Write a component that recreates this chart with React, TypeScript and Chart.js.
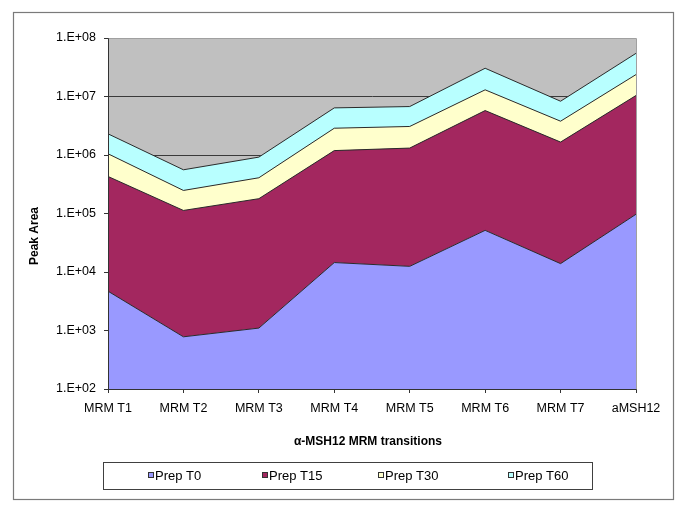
import React, { useEffect, useRef } from "react";
import { Chart, registerables } from "chart.js";

Chart.register(...registerables);

const categories = ["MRM T1", "MRM T2", "MRM T3", "MRM T4", "MRM T5", "MRM T6", "MRM T7", "aMSH12"];
const seriesLabels = ["Prep T0", "Prep T15", "Prep T30", "Prep T60"];
const prepT0 = [4700, 780, 1100, 14500, 12500, 51500, 13900, 97000];
const prepT15 = [425000, 112000, 178000, 1175000, 1300000, 5700000, 1650000, 10300000];
const prepT30 = [620000, 135000, 229000, 1680000, 1760000, 7250000, 2120000, 13300000];
const prepT60 = [1250000, 311000, 512000, 3520000, 3660000, 17400000, 4520000, 31000000];
const yTickValues = [1e2, 1e3, 1e4, 1e5, 1e6, 1e7, 1e8];
const yTickLabels = ["1.E+02", "1.E+03", "1.E+04", "1.E+05", "1.E+06", "1.E+07", "1.E+08"];
const seriesColors = ["#9999FF", "#A3275F", "#FFFFCC", "#B8FFFF"];

const FONT = "'Liberation Sans', Arial, sans-serif";

const decorPlugin = {
  id: "decor",
  beforeDraw(chart: any) {
    const { ctx, chartArea } = chart;
    ctx.save();
    ctx.fillStyle = "#C0C0C0";
    ctx.fillRect(chartArea.left, chartArea.top, chartArea.right - chartArea.left, chartArea.bottom - chartArea.top);
    ctx.restore();
  },
  afterDatasetsDraw(chart: any) {
    const { ctx, chartArea } = chart;
    const l = Math.round(chartArea.left) + 0.5;
    const r = Math.round(chartArea.right) + 0.5;
    const t = Math.round(chartArea.top) + 0.5;
    const b = Math.round(chartArea.bottom) + 0.5;
    ctx.save();
    ctx.lineWidth = 1;
    ctx.strokeStyle = "#A0A0A0";
    ctx.beginPath();
    ctx.moveTo(l, t);
    ctx.lineTo(r, t);
    ctx.lineTo(r, b);
    ctx.stroke();
    ctx.strokeStyle = "#333333";
    ctx.beginPath();
    ctx.moveTo(l, t);
    ctx.lineTo(l, b);
    ctx.lineTo(r, b);
    ctx.stroke();
    ctx.restore();
  },
  afterDraw(chart: any) {
    const { ctx, chartArea } = chart;
    ctx.save();
    // outer frame
    ctx.strokeStyle = "#7A7A7A";
    ctx.lineWidth = 1.2;
    ctx.strokeRect(13.5, 12.5, 660, 487);
    // axis titles
    ctx.fillStyle = "#000";
    ctx.font = `bold 12px ${FONT}`;
    ctx.textAlign = "center";
    ctx.textBaseline = "middle";
    ctx.fillText("\u03b1-MSH12 MRM transitions", (chartArea.left + chartArea.right) / 2 - 4, 442);
    ctx.save();
    ctx.translate(35, 236);
    ctx.rotate(-Math.PI / 2);
    ctx.fillText("Peak Area", 0, 0);
    ctx.restore();
    // legend
    ctx.strokeStyle = "#404040";
    ctx.lineWidth = 1;
    ctx.strokeRect(103.5, 462.5, 489, 27);
    const xs = [148, 262, 378, 508];
    ctx.font = `13px ${FONT}`;
    ctx.textAlign = "left";
    chart.data.datasets.forEach((ds: any, i: number) => {
      const x = xs[i];
      ctx.fillStyle = ds.backgroundColor;
      ctx.fillRect(x, 472, 6, 6);
      ctx.strokeStyle = "#333";
      ctx.strokeRect(x + 0.5, 472.5, 5, 5);
      ctx.fillStyle = "#000";
      ctx.fillText(ds.label, x + 7, 476.5);
    });
    ctx.restore();
  },
};

export default function App() {
  const ref = useRef<HTMLCanvasElement>(null);
  useEffect(() => {
    if (!ref.current) return;
    const seriesData = [prepT0, prepT15, prepT30, prepT60];
    const chart = new Chart(ref.current, {
      type: "line",
      data: {
        labels: categories,
        datasets: seriesData.map((d, i) => ({
          label: seriesLabels[i],
          data: d,
          backgroundColor: seriesColors[i],
          borderColor: "#2A2A2A",
          borderWidth: 1,
          pointRadius: 0,
          tension: 0,
          fill: i === 0 ? "start" : "-1",
        })),
      },
      options: {
        responsive: false,
        animation: false,
        events: [],
        layout: { padding: { left: 0, top: 38, right: 49, bottom: 93 } },
        plugins: {
          legend: { display: false },
          tooltip: { enabled: false },
          title: { display: false },
        },
        scales: {
          x: {
            type: "category",
            offset: false,
            afterFit: (s: any) => {
              s.height = 30;
            },
            grid: {
              drawOnChartArea: false,
              drawTicks: true,
              tickLength: 4,
              color: "#333",
              tickColor: "#333",
            },
            border: { display: true, color: "#333" },
            ticks: {
              color: "#000",
              font: { family: FONT, size: 12.5 },
              padding: 8,
              maxRotation: 0,
              autoSkip: false,
            },
          },
          y: {
            type: "logarithmic",
            stacked: true,
            min: 100,
            max: 1e8,
            afterFit: (s: any) => {
              s.width = 108;
            },
            afterBuildTicks: (s: any) => {
              s.ticks = yTickValues.map((v) => ({ value: v, major: true }));
            },
            grid: {
              drawTicks: true,
              tickLength: 4,
              color: (c: any) => (c.tick && c.tick.value === 1e8 ? "#A0A0A0" : "#3A3A3A"),
              tickColor: "#333",
              lineWidth: 1,
            },
            border: { display: true, color: "#333" },
            ticks: {
              color: "#000",
              font: { family: FONT, size: 12.5 },
              padding: 8,
              autoSkip: false,
              callback: (v: any) => {
                const idx = yTickValues.indexOf(Number(v));
                return idx >= 0 ? yTickLabels[idx] : "";
              },
            },
          },
        },
      },
      plugins: [decorPlugin],
    } as any);
    return () => chart.destroy();
  }, []);
  return (
    <div style={{ position: "fixed", left: 0, top: 0, width: 685, height: 512, background: "#fff" }}>
      <canvas ref={ref} width={685} height={512} style={{ display: "block" }} />
    </div>
  );
}
